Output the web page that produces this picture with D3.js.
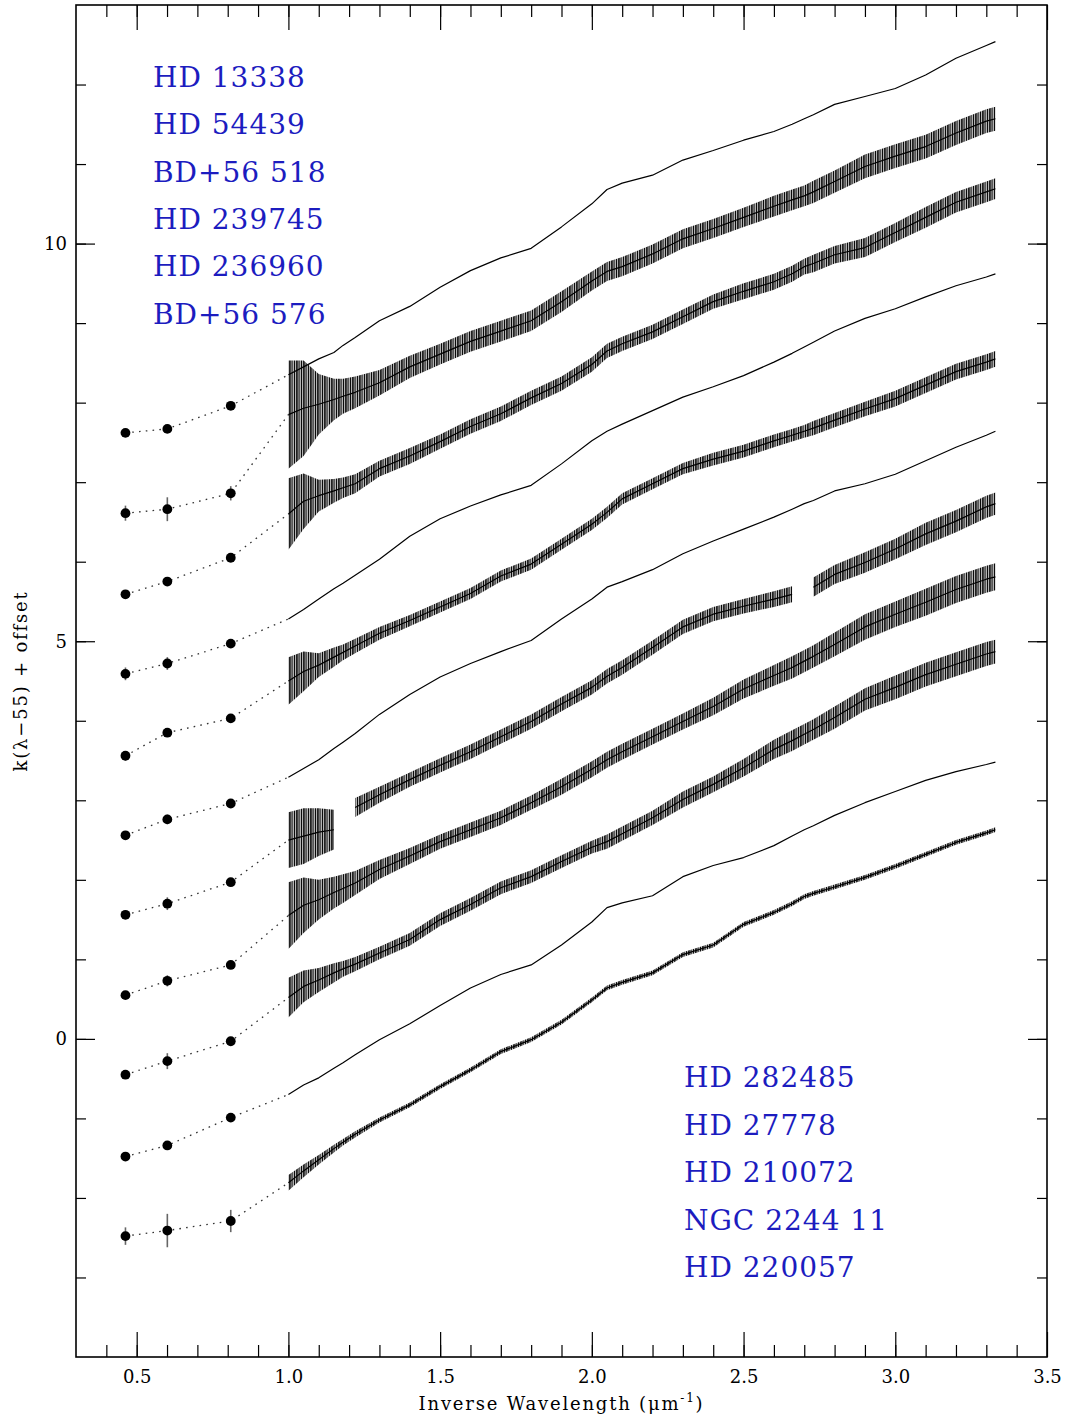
<!DOCTYPE html>
<html><head><meta charset="utf-8">
<script src="https://cdn.jsdelivr.net/npm/d3@7/dist/d3.min.js"></script>
<style>html,body{margin:0;padding:0;background:#fff;} svg{display:block;}</style>
</head><body><svg id="c" width="1068" height="1418"></svg>
<script>
// ---------------- data ----------------
const starsTop = ["HD 13338","HD 54439","BD+56 518","HD 239745","HD 236960","BD+56 576"];
const starsBottom = ["HD 282485","HD 27778","HD 210072","NGC 2244 11","HD 220057"];
const xTicksMajor = [0.5,1.0,1.5,2.0,2.5,3.0,3.5];
const xTickLabels = ["0.5","1.0","1.5","2.0","2.5","3.0","3.5"];
const yTicksMajor = [0,5,10];
const yTickLabels = ["0","5","10"];

// near-IR photometry (K, H, J) per curve, top to bottom
const irX = [0.463, 0.601, 0.81];
const irVal = [
  [7.62, 7.67, 7.96],
  [6.61, 6.66, 6.86],
  [5.59, 5.75, 6.05],
  [4.59, 4.72, 4.97],
  [3.56, 3.85, 4.03],
  [2.56, 2.76, 2.96],
  [1.56, 1.70, 1.97],
  [0.55, 0.73, 0.93],
  [-0.45, -0.28, -0.03],
  [-1.48, -1.34, -0.99],
  [-2.48, -2.41, -2.29]
];
const irErr = [
  [0.03, 0.03, 0.03],
  [0.095, 0.15, 0.09],
  [0.03, 0.04, 0.03],
  [0.08, 0.08, 0.04],
  [0.06, 0.05, 0.05],
  [0.05, 0.06, 0.04],
  [0.05, 0.08, 0.04],
  [0.04, 0.07, 0.04],
  [0.04, 0.10, 0.05],
  [0.04, 0.05, 0.04],
  [0.11, 0.21, 0.14]
];

// spectra sampled on a common inverse-wavelength grid (null = gap)
const specX = [1.00,1.05,1.10,1.15,1.18,1.22,1.30,1.40,1.50,1.60,1.70,1.80,1.90,2.00,2.05,2.10,2.20,2.30,2.40,2.50,2.60,2.66,2.70,2.73,2.80,2.90,3.00,3.10,3.20,3.30,3.33];
const spec01 = [8.35,8.45,8.55,8.63,8.72,8.82,9.03,9.21,9.45,9.66,9.82,9.94,10.21,10.50,10.68,10.76,10.86,11.05,11.17,11.30,11.41,11.50,11.57,11.62,11.75,11.85,11.95,12.12,12.33,12.49,12.54];
const spec02 = [7.85,7.93,7.98,8.04,8.08,8.13,8.25,8.45,8.61,8.77,8.90,9.03,9.27,9.53,9.65,9.71,9.87,10.06,10.19,10.33,10.47,10.55,10.60,10.65,10.78,10.97,11.10,11.22,11.39,11.54,11.57];
const spec03 = [6.60,6.76,6.83,6.89,6.93,6.98,7.17,7.33,7.51,7.70,7.86,8.06,8.24,8.48,8.65,8.74,8.89,9.08,9.27,9.40,9.52,9.62,9.71,9.75,9.86,9.95,10.14,10.33,10.52,10.65,10.69];
const spec04 = [5.28,5.40,5.53,5.66,5.73,5.83,6.03,6.32,6.54,6.70,6.84,6.96,7.23,7.52,7.64,7.73,7.90,8.07,8.20,8.34,8.51,8.62,8.70,8.76,8.90,9.06,9.18,9.33,9.47,9.58,9.62];
const spec05 = [4.50,4.62,4.70,4.80,4.86,4.94,5.10,5.26,5.43,5.60,5.82,5.97,6.22,6.47,6.62,6.79,6.98,7.17,7.29,7.39,7.52,7.59,7.64,7.68,7.78,7.92,8.05,8.22,8.39,8.51,8.55];
const spec06 = [3.29,3.40,3.51,3.65,3.73,3.84,4.08,4.33,4.55,4.72,4.87,5.01,5.28,5.53,5.68,5.75,5.90,6.10,6.26,6.41,6.56,6.66,6.73,6.77,6.89,6.98,7.10,7.27,7.44,7.59,7.64];
const spec07 = [2.50,2.55,2.60,2.63,null,2.91,3.07,3.26,3.44,3.61,3.80,3.99,4.21,4.42,4.56,4.67,4.92,5.18,5.34,5.44,5.53,5.59,null,5.68,5.84,5.99,6.16,6.35,6.51,6.69,6.73];
const spec08 = [1.55,1.68,1.75,1.84,1.89,1.96,2.13,2.30,2.48,2.63,2.78,2.97,3.17,3.39,3.51,3.61,3.80,3.99,4.18,4.40,4.57,4.67,4.75,4.81,4.96,5.18,5.34,5.49,5.65,5.78,5.81];
const spec09 = [0.52,0.66,0.74,0.83,0.88,0.94,1.08,1.25,1.50,1.69,1.90,2.04,2.23,2.41,2.48,2.58,2.78,3.01,3.20,3.41,3.64,3.75,3.83,3.89,4.04,4.27,4.42,4.58,4.71,4.84,4.87];
const spec10 = [-0.70,-0.58,-0.49,-0.37,-0.30,-0.20,-0.01,0.19,0.42,0.64,0.81,0.93,1.18,1.47,1.65,1.71,1.80,2.04,2.18,2.28,2.43,2.55,2.63,2.68,2.81,2.97,3.11,3.25,3.36,3.45,3.48];
const spec11 = [-1.81,-1.66,-1.52,-1.38,-1.30,-1.20,-1.02,-0.83,-0.60,-0.39,-0.16,-0.01,0.21,0.49,0.64,0.71,0.83,1.06,1.18,1.44,1.59,1.70,1.79,1.83,1.91,2.03,2.17,2.32,2.47,2.59,2.63];

// half-width of the noise scatter (same grid)
const noise02 = [0.68,0.60,0.38,0.26,0.22,0.20,0.16,0.14,0.13,0.13,0.13,0.13,0.13,0.12,0.12,0.12,0.12,0.12,0.12,0.12,0.13,0.13,0.13,0.14,0.14,0.15,0.15,0.15,0.15,0.15,0.15];
const noise03 = [0.45,0.35,0.20,0.15,0.13,0.12,0.10,0.10,0.09,0.09,0.09,0.09,0.09,0.09,0.09,0.09,0.09,0.09,0.09,0.10,0.10,0.10,0.10,0.11,0.11,0.12,0.12,0.13,0.13,0.13,0.13];
const noise05 = [0.30,0.25,0.15,0.12,0.10,0.09,0.08,0.07,0.07,0.07,0.07,0.07,0.07,0.07,0.07,0.07,0.07,0.07,0.08,0.08,0.08,0.08,0.08,0.09,0.09,0.09,0.10,0.10,0.10,0.10,0.10];
const noise07 = [0.35,0.35,0.30,0.25,0,0.12,0.10,0.09,0.09,0.09,0.09,0.09,0.09,0.09,0.09,0.09,0.09,0.09,0.09,0.09,0.10,0.10,0,0.12,0.12,0.13,0.13,0.14,0.14,0.14,0.14];
const noise08 = [0.42,0.35,0.25,0.20,0.18,0.15,0.12,0.10,0.09,0.09,0.09,0.09,0.10,0.10,0.10,0.10,0.10,0.10,0.11,0.12,0.13,0.14,0.14,0.14,0.15,0.16,0.16,0.17,0.17,0.17,0.17];
const noise09 = [0.25,0.20,0.15,0.12,0.10,0.09,0.08,0.08,0.08,0.08,0.08,0.08,0.08,0.08,0.09,0.09,0.09,0.10,0.10,0.11,0.12,0.13,0.13,0.13,0.14,0.14,0.15,0.15,0.15,0.15,0.15];
const noise11 = [0.10,0.08,0.06,0.05,0.04,0.04,0.03,0.03,0.03,0.03,0.03,0.03,0.03,0.03,0.03,0.03,0.03,0.03,0.03,0.03,0.03,0.03,0.03,0.03,0.03,0.03,0.03,0.03,0.03,0.03,0.03];

const spectra = [spec01,spec02,spec03,spec04,spec05,spec06,spec07,spec08,spec09,spec10,spec11];
const noises  = [null,noise02,noise03,null,noise05,null,noise07,noise08,noise09,null,noise11];

// ---------------- layout ----------------
const W = 1068, H = 1418;
const m = {left: 76, right: 21, top: 5, bottom: 61};
const svg = d3.select("#c");
const x = d3.scaleLinear().domain([0.3, 3.5]).range([m.left, W - m.right]);
const y = d3.scaleLinear().domain([-4, 13]).range([H - m.bottom, m.top]);
const serif = "'DejaVu Serif', 'Liberation Serif', serif";

// hatch texture standing in for the dense pixel-to-pixel noise
const defs = svg.append("defs");
const pat = defs.append("pattern").attr("id", "noiseTex").attr("patternUnits", "userSpaceOnUse")
  .attr("width", 7).attr("height", 13);
pat.append("rect").attr("width", 7).attr("height", 13).attr("fill", "#000").attr("fill-opacity", 0.12);
[[0.6, 1.1], [2.4, 0.9], [3.9, 1.2], [5.8, 0.8]].forEach(([px, w]) =>
  pat.append("rect").attr("x", px - w / 2).attr("y", 0).attr("width", w).attr("height", 13).attr("fill", "#000"));

// ---------------- spectra ----------------
const gS = svg.append("g");
spectra.forEach((vals, i) => {
  const pts = specX.map((xv, j) => ({x: xv, v: vals[j], n: noises[i] ? noises[i][j] : 0}));
  const conn = irX.map((xv, j) => ({x: xv, v: irVal[i][j]})).concat([{x: specX[0], v: vals[0]}]);
  gS.append("path")
    .attr("d", d3.line().x(d => x(d.x)).y(d => y(d.v))(conn))
    .attr("fill", "none").attr("stroke", "#333").attr("stroke-width", 1.3)
    .attr("stroke-dasharray", "1.6,5.2");
  if (noises[i]) {
    gS.append("path")
      .attr("d", d3.area().defined(d => d.v !== null)
        .x(d => x(d.x)).y0(d => y(d.v - d.n)).y1(d => y(d.v + d.n))(pts))
      .attr("fill", "url(#noiseTex)");
  }
  gS.append("path")
    .attr("d", d3.line().defined(d => d.v !== null).x(d => x(d.x)).y(d => y(d.v))(pts))
    .attr("fill", "none").attr("stroke", "#000").attr("stroke-width", 1.2)
    .attr("stroke-linejoin", "round");
});

// ---------------- photometry ----------------
const gP = svg.append("g");
irVal.forEach((row, i) => {
  row.forEach((v, j) => {
    const e = irErr[i][j];
    gP.append("line").attr("x1", x(irX[j])).attr("x2", x(irX[j]))
      .attr("y1", y(v - e)).attr("y2", y(v + e))
      .attr("stroke", "#666").attr("stroke-width", 1.6);
    gP.append("circle").attr("cx", x(irX[j])).attr("cy", y(v)).attr("r", 4.9).attr("fill", "#000");
  });
});

// ---------------- axes ----------------
const xMinor = d3.range(4, 35).map(k => k / 10);
const yMinor = d3.range(-3, 13);
function styleAxis(g) {
  g.select(".domain").remove();
  g.selectAll("line").attr("stroke", "#000").attr("stroke-width", 1.2);
  g.selectAll("text").attr("font-family", serif).attr("font-size", 18).attr("fill", "#000");
}
const yb = H - m.bottom, yt = m.top, xl = m.left, xr = W - m.right;
svg.append("g").attr("transform", `translate(0,${yb})`)
  .call(d3.axisBottom(x).tickValues(xMinor).tickSize(-12).tickFormat("")).call(styleAxis);
svg.append("g").attr("transform", `translate(0,${yb})`)
  .call(d3.axisBottom(x).tickValues(xTicksMajor).tickSize(-25).tickPadding(13)
    .tickFormat((d, i) => xTickLabels[i])).call(styleAxis);
svg.append("g").attr("transform", `translate(0,${yt})`)
  .call(d3.axisTop(x).tickValues(xMinor).tickSize(-12).tickFormat("")).call(styleAxis);
svg.append("g").attr("transform", `translate(0,${yt})`)
  .call(d3.axisTop(x).tickValues(xTicksMajor).tickSize(-25).tickFormat("")).call(styleAxis);
svg.append("g").attr("transform", `translate(${xl},0)`)
  .call(d3.axisLeft(y).tickValues(yMinor).tickSize(-10).tickFormat("")).call(styleAxis);
svg.append("g").attr("transform", `translate(${xl},0)`)
  .call(d3.axisLeft(y).tickValues(yTicksMajor).tickSize(-19).tickPadding(9)
    .tickFormat((d, i) => yTickLabels[i])).call(styleAxis);
svg.append("g").attr("transform", `translate(${xr},0)`)
  .call(d3.axisRight(y).tickValues(yMinor).tickSize(-10).tickFormat("")).call(styleAxis);
svg.append("g").attr("transform", `translate(${xr},0)`)
  .call(d3.axisRight(y).tickValues(yTicksMajor).tickSize(-19).tickFormat("")).call(styleAxis);

svg.append("rect").attr("x", xl).attr("y", yt).attr("width", xr - xl).attr("height", yb - yt)
  .attr("fill", "none").attr("stroke", "#000").attr("stroke-width", 1.6);

// axis titles
const xt = svg.append("text").attr("x", (xl + xr) / 2).attr("y", 1410)
  .attr("text-anchor", "middle").attr("font-family", serif).attr("font-size", 18)
  .attr("letter-spacing", 1.8).attr("fill", "#000");
xt.append("tspan").text("Inverse Wavelength (μm");
xt.append("tspan").attr("font-size", 12).attr("dy", -8).text("-1");
xt.append("tspan").attr("dy", 8).text(")");

svg.append("text").attr("transform", `translate(27,681) rotate(-90)`)
  .attr("text-anchor", "middle").attr("font-family", serif).attr("font-size", 18)
  .attr("letter-spacing", 1.8).attr("fill", "#000").text("k(λ−55) + offset");

// star labels
const blue = "#1c1cbf";
starsTop.forEach((s, i) => {
  svg.append("text").attr("x", 153).attr("y", 87 + i * 47.3)
    .attr("font-family", serif).attr("font-size", 28).attr("letter-spacing", 1)
    .attr("fill", blue).text(s);
});
starsBottom.forEach((s, i) => {
  svg.append("text").attr("x", 684).attr("y", 1087 + i * 47.5)
    .attr("font-family", serif).attr("font-size", 28).attr("letter-spacing", 1)
    .attr("fill", blue).text(s);
});
</script></body></html>
